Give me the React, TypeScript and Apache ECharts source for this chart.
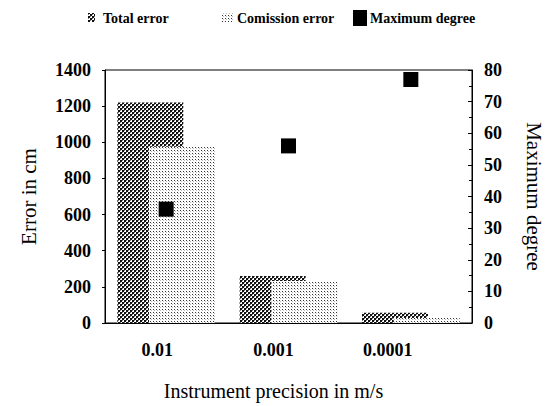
import React, { useEffect, useRef } from "react";
import * as echarts from "echarts";

const categories = ["0.01", "0.001", "0.0001"];
const totalError = [1220, 260, 57];
const comissionError = [975, 232, 27];
const maximumDegree = [36, 56, 77];
const leftTicks = { min: 0, max: 1400, interval: 200 };
const rightTicks = { min: 0, max: 80, interval: 10 };

const FONT = "Liberation Serif";

function makeTile(kind: "total" | "comission") {
  const c = document.createElement("canvas");
  if (kind === "total") {
    c.width = 4;
    c.height = 4;
    const g = c.getContext("2d")!;
    g.fillStyle = "#ffffff";
    g.fillRect(0, 0, 4, 4);
    g.fillStyle = "#111111";
    g.fillRect(0, 0, 2, 2);
    g.fillRect(2, 2, 2, 2);
    g.fillStyle = "#777777";
    g.fillRect(2, 0, 1, 1);
    g.fillRect(0, 2, 1, 1);
  } else {
    c.width = 3;
    c.height = 3;
    const g = c.getContext("2d")!;
    g.fillStyle = "#ffffff";
    g.fillRect(0, 0, 3, 3);
    g.fillStyle = "#333333";
    g.fillRect(0, 0, 1, 1);
    g.fillStyle = "#bbbbbb";
    g.fillRect(1, 1, 1, 1);
  }
  return { image: c, repeat: "repeat", imageWidth: c.width, imageHeight: c.height } as any;
}

export default function App() {
  const ref = useRef<HTMLDivElement>(null);
  useEffect(() => {
    if (!ref.current) return;
    const chart = echarts.init(ref.current, null, { renderer: "svg" });
    const totalPat = makeTile("total");
    const comPat = makeTile("comission");
    const tickLabel = { color: "#000", fontFamily: FONT, fontWeight: "bold" as const, fontSize: 18 };
    const xLabelShift = [18, 30, 46];
    const rich: Record<string, any> = {};
    xLabelShift.forEach((s, i) => {
      rich["c" + i] = { ...tickLabel, padding: [0, s, 0, 0] };
    });
    chart.setOption({
      animation: false,
      backgroundColor: "#fff",
      grid: { left: 105, right: 63, top: 70, bottom: 78, show: true, borderColor: "#000", borderWidth: 1 },
      graphic: [
        { type: "rect", shape: { x: 88, y: 13, width: 7, height: 9 }, style: { fill: totalPat } },
        { type: "text", style: { text: "Total error", x: 103, y: 18, font: `bold 14px ${FONT}`, fill: "#000", verticalAlign: "middle" } },
        { type: "rect", shape: { x: 222, y: 13, width: 11, height: 9 }, style: { fill: comPat } },
        { type: "text", style: { text: "Comission error", x: 237, y: 18, font: `bold 14px ${FONT}`, fill: "#000", verticalAlign: "middle" } },
        { type: "rect", shape: { x: 353, y: 10, width: 14, height: 16 }, style: { fill: "#000" } },
        { type: "text", style: { text: "Maximum degree", x: 370, y: 18, font: `bold 14px ${FONT}`, fill: "#000", verticalAlign: "middle" } },
      ],
      xAxis: {
        type: "category",
        data: categories,
        axisLine: { show: true, lineStyle: { color: "#000", width: 1 } },
        axisTick: { show: false },
        axisLabel: {
          ...tickLabel,
          margin: 18,
          formatter: (v: string, i: number) => `{c${i}|${v}}`,
          rich,
        },
        name: "Instrument precision in m/s",
        nameLocation: "middle",
        nameGap: 58,
        nameTextStyle: { color: "#000", fontFamily: FONT, fontSize: 20, padding: [0, 30, 0, 0] },
      },
      yAxis: [
        {
          type: "value",
          ...leftTicks,
          position: "left",
          axisLine: { show: true, lineStyle: { color: "#000", width: 1 } },
          axisTick: { show: true, length: 3, lineStyle: { color: "#000" } },
          splitLine: { show: false },
          axisLabel: { ...tickLabel, margin: 14, formatter: (v: number) => String(v) },
          name: "Error in cm",
          nameLocation: "middle",
          nameGap: 66,
          nameTextStyle: { color: "#000", fontFamily: FONT, fontSize: 21 },
        },
        {
          type: "value",
          ...rightTicks,
          position: "right",
          axisLine: { show: true, lineStyle: { color: "#000", width: 1 } },
          axisTick: { show: true, inside: true, length: 4, lineStyle: { color: "#000" } },
          minorTick: { show: true, splitNumber: 2, length: 3, lineStyle: { color: "#000" } },
          splitLine: { show: false },
          axisLabel: { ...tickLabel, margin: 12, formatter: (v: number) => String(v) },
          name: "Maximum degree",
          nameLocation: "middle",
          nameRotate: -90,
          nameGap: 51,
          nameTextStyle: { color: "#000", fontFamily: FONT, fontSize: 21 },
        },
      ],
      series: [
        {
          name: "Total error",
          type: "bar",
          data: totalError,
          barWidth: 66,
          barGap: "-52%",
          itemStyle: { color: totalPat },
        },
        {
          name: "Comission error",
          type: "bar",
          data: comissionError,
          barWidth: 66,
          barGap: "-52%",
          itemStyle: { color: comPat },
        },
        {
          name: "Maximum degree",
          type: "scatter",
          yAxisIndex: 1,
          data: maximumDegree,
          symbol: "rect",
          symbolSize: 15,
          itemStyle: { color: "#000", opacity: 1 },
          z: 5,
        },
      ],
    });
    return () => chart.dispose();
  }, []);
  return <div ref={ref} style={{ position: "fixed", left: 0, top: 0, width: 552, height: 406 }} />;
}
